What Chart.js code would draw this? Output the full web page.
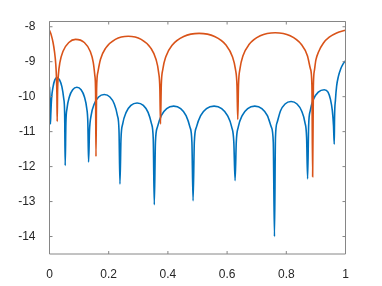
<!DOCTYPE html>
<html>
<head>
<meta charset="utf-8">
<script src="https://cdn.jsdelivr.net/npm/chart.js@4"></script>
<style>
  html, body { margin: 0; padding: 0; background: #fff; }
</style>
</head>
<body>
<canvas id="myChart" width="382" height="286"></canvas>
<script>
// tick values
const xTicks = [0, 0.2, 0.4, 0.6, 0.8, 1];
const yTicks = [-14, -13, -12, -11, -10, -9, -8];

// blue series
const blueX = [0, 0.0015, 0.003,
  0.0045, 0.007, 0.012, 0.018, 0.025, 0.034, 0.042, 0.048, 0.0512, 0.053,
  0.0554, 0.0593, 0.0672, 0.0783, 0.0925, 0.1067, 0.1178, 0.1257, 0.1296, 0.132,
  0.1352, 0.1405, 0.1511, 0.1659, 0.185, 0.2041, 0.2189, 0.2295, 0.2348, 0.238,
  0.2415, 0.2473, 0.2589, 0.2751, 0.296, 0.3169, 0.3331, 0.3447, 0.3505, 0.354,
  0.3579, 0.3645, 0.3776, 0.3959, 0.4195, 0.4431, 0.4614, 0.4745, 0.4811, 0.485,
  0.4893, 0.4964, 0.5106, 0.5304, 0.556, 0.5816, 0.6014, 0.6156, 0.6227, 0.627,
  0.631, 0.6376, 0.6509, 0.6696, 0.6935, 0.7174, 0.7361, 0.7494, 0.756, 0.760,
  0.7634, 0.769, 0.7802, 0.7958, 0.816, 0.8362, 0.8518, 0.863, 0.8686, 0.872,
  0.8755, 0.881, 0.892, 0.908, 0.928, 0.941, 0.949, 0.9555, 0.9595, 0.962,
  0.963, 0.966, 0.970, 0.976, 0.984, 0.992, 1.0];
const blueY = [-9.72, -10.05, -10.78,
  -10.48, -10.05, -9.72, -9.52, -9.45, -9.52, -9.72, -10.05, -10.48, -11.97,
  -10.76, -10.33, -10.00, -9.80, -9.73, -9.80, -10.00, -10.33, -10.76, -11.87,
  -10.97, -10.54, -10.21, -10.01, -9.94, -10.01, -10.21, -10.54, -10.97, -12.5,
  -11.21, -10.78, -10.45, -10.25, -10.18, -10.25, -10.45, -10.78, -11.21, -13.09,
  -11.30, -10.87, -10.54, -10.34, -10.27, -10.34, -10.54, -10.87, -11.30, -12.98,
  -11.30, -10.87, -10.54, -10.34, -10.27, -10.34, -10.54, -10.87, -11.30, -12.4,
  -11.30, -10.87, -10.54, -10.34, -10.27, -10.34, -10.54, -10.87, -11.30, -14.0,
  -11.17, -10.74, -10.41, -10.21, -10.14, -10.21, -10.41, -10.74, -11.17, -12.35,
  -10.83, -10.40, -10.07, -9.87, -9.80, -9.87, -10.07, -10.40, -10.83, -11.36,
  -10.6, -10.1, -9.7, -9.42, -9.2, -9.06, -8.97];

// orange series
const orangeX = [0, 0.006, 0.012, 0.017, 0.021, 0.0235, 0.025, 0.026,
  0.0273, 0.0299, 0.0352, 0.0457, 0.0653, 0.0880, 0.1177, 0.1374, 0.1478, 0.1531, 0.1557, 0.157,
  0.1592, 0.1635, 0.1723, 0.1897, 0.2224, 0.266, 0.3096, 0.3423, 0.3597, 0.3685, 0.3728, 0.375,
  0.3776, 0.3828, 0.3933, 0.4142, 0.4533, 0.5055, 0.5577, 0.5969, 0.6177, 0.6283, 0.6334, 0.636,
  0.6385, 0.6436, 0.6537, 0.674, 0.7119, 0.7625, 0.8131, 0.8511, 0.8713, 0.8814, 0.8865, 0.889,
  0.8915, 0.895, 0.90, 0.91, 0.925, 0.945, 0.97, 1.0];
const orangeY = [-8.10, -8.24, -8.45, -8.72, -9.05, -9.45, -9.95, -10.71,
  -9.86, -9.39, -9.02, -8.70, -8.45, -8.36, -8.45, -8.70, -9.02, -9.39, -9.86, -11.71,
  -9.77, -9.30, -8.93, -8.61, -8.36, -8.27, -8.36, -8.61, -8.93, -9.30, -9.77, -10.78,
  -9.69, -9.22, -8.85, -8.53, -8.28, -8.19, -8.28, -8.53, -8.85, -9.22, -9.69, -10.65,
  -9.67, -9.20, -8.83, -8.51, -8.26, -8.17, -8.26, -8.51, -8.83, -9.20, -9.67, -12.29,
  -9.70, -9.25, -8.95, -8.70, -8.47, -8.30, -8.18, -8.10];

const axisColor = '#868686';
const textColor = '#262626';

// box round the axes, with the small inward ticks on all four sides
const boxPlugin = {
  id: 'box',
  afterDatasetsDraw(chart) {
    const { ctx, chartArea: a, scales: { x, y } } = chart;
    ctx.save();
    ctx.strokeStyle = axisColor;
    ctx.lineWidth = 1;
    ctx.beginPath();
    ctx.rect(a.left, a.top, a.right - a.left, a.bottom - a.top);
    x.ticks.forEach(t => {
      const px = x.getPixelForValue(t.value);
      ctx.moveTo(px, a.bottom); ctx.lineTo(px, a.bottom - 3);
      ctx.moveTo(px, a.top); ctx.lineTo(px, a.top + 3);
    });
    y.ticks.forEach(t => {
      const py = y.getPixelForValue(t.value);
      ctx.moveTo(a.left, py); ctx.lineTo(a.left + 3, py);
      ctx.moveTo(a.right, py); ctx.lineTo(a.right - 3, py);
    });
    ctx.stroke();
    ctx.restore();
  }
};

const data = {
  datasets: [{
    label: 'blue',
    data: blueX.map((v, i) => ({ x: v, y: blueY[i] })),
    borderColor: '#0072BD',
    borderWidth: 1.6,
    cubicInterpolationMode: 'monotone',
    order: 1
  }, {
    label: 'orange',
    data: orangeX.map((v, i) => ({ x: v, y: orangeY[i] })),
    borderColor: '#D95319',
    borderWidth: 1.6,
    cubicInterpolationMode: 'monotone',
    order: 0
  }]
};

const config = {
  type: 'line',
  data: data,
  options: {
    responsive: false,
    animation: false,
    devicePixelRatio: 1,
    layout: { padding: { left: 0, top: 21.5, right: 36.5, bottom: 0 } },
    elements: { point: { radius: 0 } },
    plugins: { legend: { display: false }, tooltip: { enabled: false } },
    scales: {
      x: {
        type: 'linear',
        min: 0,
        max: 1,
        afterBuildTicks: s => { s.ticks = xTicks.map(v => ({ value: v })); },
        afterFit: s => { s.height = 32; },
        grid: { display: false },
        border: { display: false },
        ticks: {
          padding: 5,
          maxRotation: 0,
          color: textColor,
          font: { family: 'Liberation Sans', size: 12 },
          callback: v => String(v)
        }
      },
      y: {
        type: 'linear',
        min: -14.5,
        max: -7.85,
        afterBuildTicks: s => { s.ticks = yTicks.map(v => ({ value: v })); },
        afterFit: s => { s.width = 49.5; },
        grid: { display: false },
        border: { display: false },
        ticks: {
          padding: 6,
          color: textColor,
          font: { family: 'Liberation Sans', size: 12 },
          callback: v => String(v)
        }
      }
    }
  },
  plugins: [boxPlugin]
};

const myChart = new Chart(document.getElementById('myChart'), config);
</script>
</body>
</html>
